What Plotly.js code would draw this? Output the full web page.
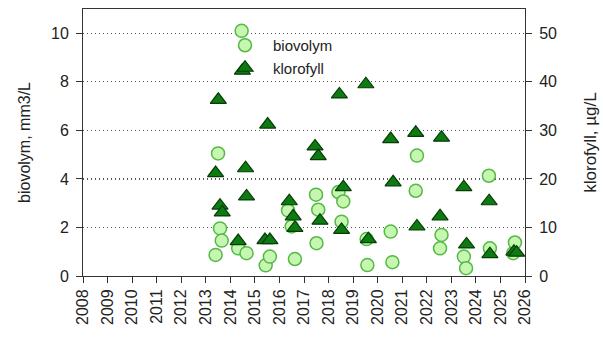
<!DOCTYPE html>
<html>
<head>
<meta charset="utf-8">
<script src="https://cdn.plot.ly/plotly-3.0.1.min.js"></script>
<style>html,body{margin:0;padding:0;background:#fff;}#chart{width:603px;height:338px;}</style>
</head>
<body>
<div id="chart"></div>
<script>
// Sampling dates (decimal years) and values
const bioYears = [2013.40, 2013.50, 2013.58, 2013.65, 2014.32, 2014.46, 2014.66, 2015.44, 2015.61,
  2016.35, 2016.50, 2016.63, 2017.49, 2017.51, 2017.58, 2018.40, 2018.53, 2018.60,
  2019.55, 2019.58, 2020.53, 2020.60, 2021.55, 2021.60, 2022.54, 2022.60,
  2023.51, 2023.60, 2024.53, 2024.57, 2025.52, 2025.59];
const bioValues = [0.87, 5.05, 1.96, 1.46, 1.14, 10.1, 0.94, 0.44, 0.8,
  2.7, 2.04, 0.7, 3.35, 1.35, 2.73, 3.46, 2.24, 3.07,
  1.52, 0.45, 1.83, 0.57, 3.51, 4.96, 1.14, 1.69,
  0.8, 0.32, 4.13, 1.14, 0.94, 1.38];

const klorYears = [2013.40, 2013.51, 2013.58, 2013.67, 2014.32, 2014.49, 2014.62, 2014.66,
  2015.41, 2015.52, 2015.61, 2016.40, 2016.56, 2016.63, 2017.45, 2017.58, 2017.65,
  2018.44, 2018.53, 2018.60, 2019.52, 2019.62, 2020.53, 2020.63, 2021.55, 2021.60,
  2022.54, 2022.60, 2023.51, 2023.62, 2024.54, 2024.57, 2025.55, 2025.66];
const klorValues = [21.2, 36.3, 14.5, 13.1, 7.2, 42.3, 22.2, 16.4,
  7.4, 31.2, 7.4, 15.4, 12.3, 9.9, 26.7, 24.7, 11.4,
  37.4, 9.5, 18.3, 39.5, 7.6, 28.2, 19.3, 29.5, 10.2,
  12.3, 28.5, 18.3, 6.5, 15.4, 4.5, 5.0, 4.8];

const yearTicks = [2008,2009,2010,2011,2012,2013,2014,2015,2016,2017,2018,2019,2020,2021,2022,2023,2024,2025,2026];
const bioTicks = [0, 2, 4, 6, 8, 10];
const klorTicks = [0, 10, 20, 30, 40, 50];

const font = "'Liberation Sans', Arial, sans-serif";

const traces = [
  {
    x: bioYears, y: bioValues, name: 'biovolym', type: 'scatter', mode: 'markers',
    yaxis: 'y',
    marker: {symbol: 'circle', size: 13, color: '#c6f7b0', line: {color: '#56b847', width: 1.5}}
  },
  {
    x: klorYears, y: klorValues, name: 'klorofyll', type: 'scatter', mode: 'markers',
    yaxis: 'y2',
    marker: {symbol: 'triangle-up', size: 14, color: '#0d7a12', line: {color: '#053d06', width: 1.2}}
  }
];

const layout = {
  width: 603, height: 338,
  margin: {l: 83, r: 78, t: 9, b: 62, pad: 0},
  paper_bgcolor: '#fff', plot_bgcolor: '#fff',
  font: {family: font, size: 16, color: '#222'},
  showlegend: true,
  legend: {
    x: (217 - 83) / 442, y: (276 - 29) / 267, xanchor: 'left', yanchor: 'top',
    bgcolor: 'rgba(0,0,0,0)', borderwidth: 0, itemwidth: 46,
    font: {family: font, size: 15, color: '#222'}
  },
  xaxis: {
    range: [2008, 2026], tickvals: yearTicks, ticktext: yearTicks.map(String),
    tickangle: -90, ticks: 'outside', ticklen: 6, tickcolor: '#333',
    showline: true, linecolor: '#333', linewidth: 1, mirror: true,
    showgrid: false, zeroline: false,
    tickfont: {family: font, size: 16, color: '#222'}
  },
  yaxis: {
    range: [0, 11], tickvals: bioTicks, ticks: 'outside', ticklen: 6, tickcolor: '#333',
    ticklabelstandoff: 4,
    showline: true, linecolor: '#333', linewidth: 1,
    showgrid: true, gridcolor: '#555', griddash: '1px,3px', gridwidth: 1.2,
    zeroline: false,
    title: {text: 'biovolym, mm3/L', font: {family: font, size: 16, color: '#222'}, standoff: 16},
    tickfont: {family: font, size: 16, color: '#222'}
  },
  yaxis2: {
    overlaying: 'y', side: 'right',
    range: [0, 55], tickvals: klorTicks, ticks: 'outside', ticklen: 6, tickcolor: '#333',
    ticklabelstandoff: 4,
    showline: true, linecolor: '#333', linewidth: 1,
    showgrid: false, zeroline: false,
    title: {text: 'klorofyll, µg/L', font: {family: font, size: 17, color: '#222'}, standoff: 28},
    tickfont: {family: font, size: 16, color: '#222'}
  }
};

Plotly.newPlot('chart', traces, layout, {staticPlot: true, displayModeBar: false});
</script>
</body>
</html>
